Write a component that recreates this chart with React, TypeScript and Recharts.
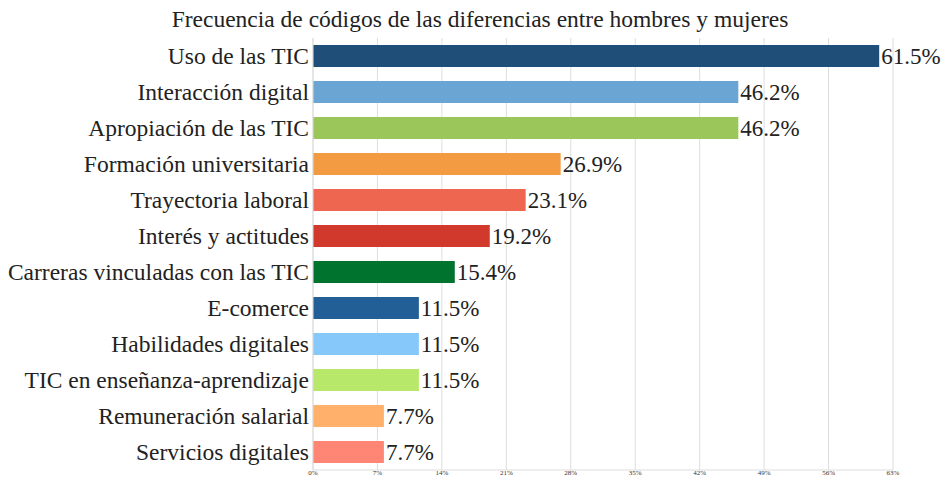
import { BarChart, Bar, XAxis, YAxis, CartesianGrid, Cell, LabelList } from 'recharts';

const categories = [
  'Uso de las TIC',
  'Interacción digital',
  'Apropiación de las TIC',
  'Formación universitaria',
  'Trayectoria laboral',
  'Interés y actitudes',
  'Carreras vinculadas con las TIC',
  'E-comerce',
  'Habilidades digitales',
  'TIC en enseñanza-aprendizaje',
  'Remuneración salarial',
  'Servicios digitales',
];

const values = [61.5, 46.2, 46.2, 26.9, 23.1, 19.2, 15.4, 11.5, 11.5, 11.5, 7.7, 7.7];

const colors = [
  '#1F4E79', '#6BA5D4', '#9BC65A', '#F39B43', '#EE6650', '#D0392B',
  '#00732F', '#225F96', '#86C8FA', '#B8E86A', '#FFB06B', '#FF8575',
];

const xTicks = [0, 7, 14, 21, 28, 35, 42, 49, 56, 63];

const data = categories.map((name, i) => ({ name, value: values[i] }));

const font = 'Liberation Serif, serif';

export default function App() {
  return (
    <div style={{ position: 'absolute', left: 0, top: 0, width: 945, height: 479, background: '#fff', fontFamily: font }}>
      <div
        style={{
          position: 'absolute',
          top: 5,
          left: 0,
          width: 960,
          textAlign: 'center',
          fontSize: 23.5,
          lineHeight: '28px',
          color: '#222',
        }}
      >
        Frecuencia de códigos de las diferencias entre hombres y mujeres
      </div>
      <BarChart
        width={945}
        height={479}
        data={data}
        layout="vertical"
        margin={{ top: 38, right: 52, bottom: 0, left: 0 }}
        barCategoryGap={7}
        style={{ fontFamily: font }}
      >
        <CartesianGrid horizontal={false} stroke="#dddddd" />
        <XAxis
          type="number"
          domain={[0, 63]}
          ticks={xTicks}
          tickFormatter={(v) => `${v}%`}
          tick={{ fontSize: 7, fill: '#333', fontFamily: font }}
          tickLine={false}
          tickSize={0}
          axisLine={{ stroke: '#dddddd' }}
          height={9}
          tickMargin={0}
        />
        <YAxis
          type="category"
          dataKey="name"
          width={313}
          tick={{ fontSize: 23.5, fill: '#222', fontFamily: font }}
          tickLine={false}
          tickSize={0}
          axisLine={{ stroke: '#dddddd' }}
          tickMargin={4}
          interval={0}
        />
        <Bar dataKey="value" barSize={22} isAnimationActive={false}>
          {data.map((d, i) => (
            <Cell key={d.name} fill={colors[i]} />
          ))}
          <LabelList
            dataKey="value"
            position="right"
            offset={2}
            formatter={(v: number) => `${v.toFixed(1)}%`}
            style={{ fontSize: 23, fill: '#222', fontFamily: font }}
          />
        </Bar>
      </BarChart>
    </div>
  );
}
